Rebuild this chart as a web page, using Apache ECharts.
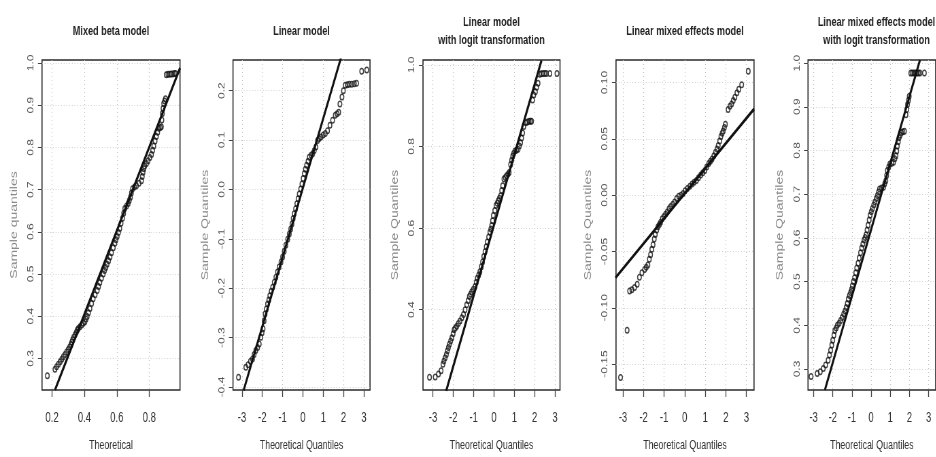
<!DOCTYPE html>
<html>
<head>
<meta charset="utf-8">
<script src="https://cdn.jsdelivr.net/npm/echarts@6/dist/echarts.min.js"></script>
<style>
html,body{margin:0;padding:0;background:#fff;overflow:hidden}
#wrap{width:936px;height:457px;overflow:hidden;position:relative}
#c{height:457px;transform-origin:0 0;position:absolute;left:0;top:0}
</style>
</head>
<body>
<div id="wrap"><div id="c"></div></div>
<script>
// ---------- DATA ----------
const titles = [
  "Mixed beta model",
  "Linear model",
  "Linear model\nwith logit transformation",
  "Linear mixed effects model",
  "Linear mixed effects model\nwith logit transformation"
];
const yNames = ["Sample quantiles", "Sample Quantiles", "Sample Quantiles", "Sample Quantiles", "Sample Quantiles"];
const xNames = ["Theoretical", "Theoretical Quantiles", "Theoretical Quantiles", "Theoretical Quantiles", "Theoretical Quantiles"];

const p1XTicks = [0.2, 0.4, 0.6, 0.8];
const p1XLabels = ["0.2", "0.4", "0.6", "0.8"];
const qXTicks = [-3, -2, -1, 0, 1, 2, 3];
const qXLabels = ["-3", "-2", "-1", "0", "1", "2", "3"];

const p1YTicks = [0.3, 0.4, 0.5, 0.6, 0.7, 0.8, 0.9, 1.0];
const p1YLabels = ["0.3", "0.4", "0.5", "0.6", "0.7", "0.8", "0.9", "1.0"];
const p2YTicks = [-0.4, -0.3, -0.2, -0.1, 0.0, 0.1, 0.2];
const p2YLabels = ["-0.4", "-0.3", "-0.2", "-0.1", "0.0", "0.1", "0.2"];
const p3YTicks = [0.4, 0.6, 0.8, 1.0];
const p3YLabels = ["0.4", "0.6", "0.8", "1.0"];
const p4YTicks = [-0.15, -0.10, -0.05, 0.00, 0.05, 0.10];
const p4YLabels = ["-0.15", "-0.10", "-0.05", "0.00", "0.05", "0.10"];
const p5YTicks = [0.3, 0.4, 0.5, 0.6, 0.7, 0.8, 0.9, 1.0];
const p5YLabels = ["0.3", "0.4", "0.5", "0.6", "0.7", "0.8", "0.9", "1.0"];

const p1XRange = [0.138, 0.99], p1YRange = [0.225, 1.007];
const p2XRange = [-3.44, 3.30], p2YRange = [-0.406, 0.262];
const p3XRange = [-3.49, 3.25], p3YRange = [0.203, 1.012];
const p4XRange = [-3.34, 3.37], p4YRange = [-0.173, 0.120];
const p5XRange = [-3.29, 3.37], p5YRange = [0.252, 1.007];

// reference lines (two visible end points)
const p1Line = [[0.218, 0.225], [0.99, 0.988]];
const p2Line = [[-2.92, -0.407], [1.87, 0.266]];
const p3Line = [[-2.35, 0.201], [2.34, 1.011]];
const p4Line = [[-3.37, -0.0735], [3.37, 0.0765]];
const p5Line = [[-2.41, 0.252], [2.55, 1.007]];

// sample points [theoretical, sample]
const p1Points = [
[0.171,0.259],[0.218,0.274],[0.228,0.280],[0.239,0.286],[0.250,0.292],[0.260,0.298],[0.270,0.304],
[0.280,0.309],[0.290,0.315],[0.300,0.321],[0.309,0.327],[0.317,0.333],[0.322,0.338],[0.327,0.344],
[0.334,0.350],[0.342,0.356],[0.350,0.362],[0.356,0.367],[0.362,0.371],[0.372,0.375],[0.383,0.379],
[0.393,0.383],[0.403,0.387],[0.410,0.393],[0.417,0.399],[0.425,0.408],[0.434,0.418],[0.444,0.430],
[0.454,0.441],[0.466,0.451],[0.479,0.461],[0.487,0.470],[0.495,0.480],[0.505,0.490],[0.516,0.500],
[0.524,0.508],[0.532,0.515],[0.540,0.523],[0.549,0.531],[0.558,0.540],[0.567,0.550],[0.578,0.562],
[0.588,0.573],[0.595,0.581],[0.602,0.589],[0.610,0.598],[0.618,0.608],[0.626,0.620],[0.635,0.632],
[0.642,0.644],[0.649,0.655],[0.660,0.661],[0.670,0.667],[0.677,0.674],[0.684,0.682],[0.690,0.692],
[0.697,0.702],[0.709,0.706],[0.721,0.709],[0.737,0.715],[0.752,0.721],[0.757,0.731],[0.762,0.741],
[0.767,0.749],[0.772,0.756],[0.783,0.762],[0.793,0.768],[0.804,0.776],[0.814,0.783],[0.821,0.793],
[0.828,0.803],[0.836,0.815],[0.844,0.826],[0.852,0.836],[0.860,0.845],[0.868,0.847],[0.875,0.849],
[0.878,0.865],[0.881,0.880],[0.885,0.892],[0.889,0.904],[0.895,0.910],[0.900,0.915],[0.905,0.972],
[0.915,0.973],[0.925,0.973],[0.935,0.974],[0.945,0.974],[0.955,0.975],[0.962,0.975]
];
const p2Points = [
[-3.17,-0.380],[-2.81,-0.360],[-2.70,-0.355],[-2.58,-0.348],[-2.48,-0.343],[-2.40,-0.334],[-2.32,-0.326],
[-2.23,-0.320],[-2.15,-0.313],[-2.07,-0.299],[-2.01,-0.290],[-1.96,-0.282],[-1.91,-0.266],[-1.86,-0.252],
[-1.80,-0.242],[-1.74,-0.232],[-1.68,-0.224],[-1.63,-0.215],[-1.56,-0.206],[-1.49,-0.198],[-1.41,-0.188],
[-1.33,-0.178],[-1.25,-0.167],[-1.17,-0.157],[-1.08,-0.147],[-1.00,-0.137],[-0.92,-0.125],[-0.84,-0.113],
[-0.75,-0.101],[-0.67,-0.090],[-0.60,-0.080],[-0.54,-0.070],[-0.48,-0.059],[-0.43,-0.049],[-0.36,-0.039],
[-0.30,-0.029],[-0.24,-0.019],[-0.18,-0.009],[-0.11,0.001],[-0.05,0.011],[0.01,0.022],[0.07,0.032],
[0.12,0.041],[0.18,0.049],[0.25,0.057],[0.31,0.065],[0.40,0.069],[0.48,0.072],[0.56,0.079],
[0.64,0.086],[0.72,0.099],[0.80,0.103],[0.89,0.106],[1.00,0.110],[1.10,0.113],[1.21,0.119],
[1.33,0.130],[1.46,0.140],[1.59,0.150],[1.68,0.153],[1.76,0.156],[1.82,0.173],[1.92,0.187],
[1.99,0.200],[2.08,0.211],[2.18,0.212],[2.28,0.213],[2.40,0.213],[2.53,0.214],[2.64,0.215],
[2.89,0.239],[3.14,0.242]
];
const p3Points = [
[-3.17,0.234],[-2.89,0.235],[-2.73,0.242],[-2.60,0.250],[-2.51,0.266],[-2.46,0.274],[-2.40,0.282],
[-2.34,0.290],[-2.29,0.299],[-2.24,0.307],[-2.19,0.315],[-2.13,0.323],[-2.07,0.331],[-2.01,0.341],
[-1.96,0.351],[-1.90,0.355],[-1.83,0.359],[-1.75,0.366],[-1.67,0.372],[-1.58,0.380],[-1.50,0.388],
[-1.42,0.400],[-1.34,0.412],[-1.27,0.422],[-1.21,0.432],[-1.15,0.438],[-1.09,0.444],[-1.01,0.450],
[-0.93,0.457],[-0.87,0.467],[-0.82,0.477],[-0.75,0.485],[-0.69,0.493],[-0.62,0.505],[-0.56,0.517],
[-0.50,0.530],[-0.44,0.542],[-0.38,0.554],[-0.33,0.566],[-0.26,0.578],[-0.20,0.590],[-0.15,0.598],
[-0.11,0.606],[-0.07,0.618],[-0.03,0.631],[0.04,0.643],[0.10,0.655],[0.16,0.661],[0.21,0.667],
[0.27,0.673],[0.33,0.679],[0.38,0.692],[0.43,0.704],[0.49,0.720],[0.56,0.724],[0.62,0.728],
[0.69,0.732],[0.75,0.736],[0.82,0.756],[0.87,0.766],[0.92,0.776],[0.97,0.783],[1.03,0.789],
[1.11,0.791],[1.19,0.793],[1.25,0.801],[1.31,0.809],[1.36,0.821],[1.41,0.833],[1.47,0.849],
[1.57,0.858],[1.65,0.860],[1.73,0.862],[1.80,0.862],[1.85,0.862],[1.90,0.914],[1.96,0.926],
[2.04,0.934],[2.10,0.945],[2.17,0.955],[2.25,0.977],[2.33,0.978],[2.42,0.979],[2.50,0.979],
[2.58,0.979],[2.75,0.979],[3.10,0.979]
];
const p4Points = [
[-3.12,-0.162],[-2.80,-0.120],[-2.68,-0.085],[-2.57,-0.084],[-2.44,-0.082],[-2.31,-0.079],[-2.20,-0.073],
[-2.08,-0.069],[-1.95,-0.066],[-1.87,-0.064],[-1.79,-0.062],[-1.72,-0.057],[-1.66,-0.053],[-1.60,-0.048],
[-1.54,-0.044],[-1.48,-0.039],[-1.43,-0.035],[-1.36,-0.031],[-1.30,-0.028],[-1.23,-0.026],[-1.17,-0.024],
[-1.09,-0.021],[-1.01,-0.019],[-0.93,-0.017],[-0.85,-0.015],[-0.76,-0.012],[-0.68,-0.010],[-0.58,-0.008],
[-0.49,-0.006],[-0.39,-0.003],[-0.29,-0.001],[-0.18,0.000],[-0.08,0.0015],[0.02,0.004],[0.13,0.006],
[0.25,0.008],[0.36,0.010],[0.46,0.0115],[0.57,0.013],[0.67,0.0155],[0.78,0.018],[0.88,0.020],
[0.98,0.022],[1.07,0.025],[1.17,0.028],[1.25,0.030],[1.33,0.032],[1.42,0.035],[1.50,0.038],
[1.57,0.041],[1.63,0.044],[1.70,0.048],[1.76,0.052],[1.82,0.055],[1.87,0.057],[1.93,0.060],
[1.98,0.063],[2.11,0.076],[2.20,0.079],[2.28,0.081],[2.36,0.084],[2.44,0.087],[2.54,0.091],
[2.63,0.094],[2.77,0.098],[3.09,0.110]
];
const p5Points = [
[-3.13,0.283],[-2.81,0.290],[-2.65,0.294],[-2.49,0.301],[-2.37,0.309],[-2.24,0.320],[-2.17,0.332],
[-2.11,0.343],[-2.05,0.355],[-2.00,0.366],[-1.94,0.377],[-1.89,0.388],[-1.82,0.394],[-1.76,0.400],
[-1.67,0.405],[-1.59,0.411],[-1.51,0.418],[-1.43,0.426],[-1.36,0.433],[-1.30,0.441],[-1.24,0.450],
[-1.19,0.460],[-1.13,0.468],[-1.07,0.475],[-1.02,0.482],[-0.98,0.490],[-0.92,0.500],[-0.86,0.509],
[-0.80,0.520],[-0.75,0.531],[-0.68,0.542],[-0.62,0.554],[-0.55,0.566],[-0.49,0.577],[-0.43,0.586],
[-0.37,0.595],[-0.31,0.601],[-0.26,0.607],[-0.21,0.618],[-0.16,0.629],[-0.10,0.641],[-0.05,0.652],
[0.01,0.660],[0.07,0.667],[0.14,0.675],[0.20,0.682],[0.27,0.690],[0.33,0.697],[0.39,0.705],
[0.44,0.712],[0.55,0.714],[0.65,0.716],[0.71,0.724],[0.77,0.731],[0.81,0.743],[0.85,0.754],
[0.92,0.762],[0.98,0.769],[1.08,0.771],[1.17,0.773],[1.24,0.781],[1.30,0.788],[1.34,0.799],
[1.37,0.810],[1.42,0.820],[1.46,0.829],[1.52,0.835],[1.58,0.841],[1.66,0.843],[1.74,0.844],
[1.82,0.882],[1.86,0.894],[1.90,0.905],[1.95,0.915],[1.99,0.924],[2.07,0.977],[2.15,0.977],
[2.23,0.977],[2.31,0.977],[2.39,0.977],[2.47,0.977],[2.55,0.977],[2.78,0.977]
];

// ---------- LAYOUT / STYLE ----------
// The original figure is horizontally squeezed; draw wider and compress with CSS.
const SX = 0.68;
const CHART_W = Math.round(936 / SX);
const SANS = "'Liberation Sans',Arial,'DejaVu Sans',sans-serif";
// boxes in final (screen) pixels
const boxes = [
  {left: 42, top: 60, width: 138, height: 333},
  {left: 233, top: 60, width: 137, height: 333},
  {left: 423, top: 60, width: 137, height: 333},
  {left: 616, top: 60, width: 138, height: 333},
  {left: 808, top: 60, width: 137, height: 333}
];
const panels = [
  {pts: p1Points, line: p1Line, xr: p1XRange, yr: p1YRange, xt: p1XTicks, xl: p1XLabels, yt: p1YTicks, yl: p1YLabels},
  {pts: p2Points, line: p2Line, xr: p2XRange, yr: p2YRange, xt: qXTicks, xl: qXLabels, yt: p2YTicks, yl: p2YLabels},
  {pts: p3Points, line: p3Line, xr: p3XRange, yr: p3YRange, xt: qXTicks, xl: qXLabels, yt: p3YTicks, yl: p3YLabels},
  {pts: p4Points, line: p4Line, xr: p4XRange, yr: p4YRange, xt: qXTicks, xl: qXLabels, yt: p4YTicks, yl: p4YLabels},
  {pts: p5Points, line: p5Line, xr: p5XRange, yr: p5YRange, xt: qXTicks, xl: qXLabels, yt: p5YTicks, yl: p5YLabels}
];

function lookup(ticks, labels) {
  return function (v) {
    for (let i = 0; i < ticks.length; i++) if (Math.abs(ticks[i] - v) < 1e-7) return labels[i];
    return '';
  };
}

const option = {
  animation: false,
  backgroundColor: '#ffffff',
  grid: [], xAxis: [], yAxis: [], series: [], graphic: []
};

panels.forEach(function (p, i) {
  const b = boxes[i];
  option.grid.push({left: b.left / SX, top: b.top, width: b.width / SX, height: b.height, show: true,
    borderColor: '#2a2a2a', borderWidth: 1.6, backgroundColor: 'transparent'});
  option.xAxis.push({
    type: 'value', gridIndex: i, min: p.xr[0], max: p.xr[1],
    name: xNames[i], nameLocation: 'middle', nameGap: 49,
    nameTextStyle: {fontFamily: SANS, fontSize: 13, color: '#333'},
    axisLine: {show: false, onZero: false},
    axisTick: {show: true, customValues: p.xt, length: 7, lineStyle: {color: '#444', width: 1.3}},
    axisLabel: {customValues: p.xt, formatter: lookup(p.xt, p.xl), fontFamily: SANS, fontSize: 14, color: '#333', margin: 21},
    splitLine: {show: true, lineStyle: {color: '#c4c4c4', type: [1, 3], width: 1.2}}
  });
  option.yAxis.push({
    type: 'value', gridIndex: i, min: p.yr[0], max: p.yr[1],
    name: yNames[i], nameLocation: 'middle', nameGap: 34,
    nameTextStyle: {fontFamily: SANS, fontSize: 14, color: '#8a8a8a'},
    axisLine: {show: false, onZero: false},
    axisTick: {show: true, customValues: p.yt, length: 6, lineStyle: {color: '#444', width: 1}},
    axisLabel: {customValues: p.yt, formatter: lookup(p.yt, p.yl), rotate: 90, fontFamily: SANS, fontSize: 12, color: '#555', margin: 10},
    splitLine: {show: true, lineStyle: {color: '#c4c4c4', type: [1, 3], width: 1}}
  });
  option.series.push({
    type: 'scatter', xAxisIndex: i, yAxisIndex: i, data: p.pts,
    symbol: 'circle', symbolSize: 5.5,
    itemStyle: {color: 'rgba(0,0,0,0)', borderColor: '#151515', borderWidth: 1.5},
    silent: true, z: 2
  });
  option.series.push({
    type: 'line', xAxisIndex: i, yAxisIndex: i, data: p.line, showSymbol: false, symbol: 'none',
    lineStyle: {color: '#111', width: 3}, clip: true, silent: true, z: 3
  });
  option.graphic.push({
    type: 'text', x: (b.left + b.width / 2) / SX, y: 31,
    style: {text: titles[i], align: 'center', verticalAlign: 'middle', lineHeight: 18,
      font: 'bold 13.4px ' + SANS, fill: '#222'}
  });
});

const el = document.getElementById('c');
el.style.width = CHART_W + 'px';
el.style.transform = 'scaleX(' + SX + ')';
const chart = echarts.init(el, null, {renderer: 'canvas'});
chart.setOption(option);
</script>
</body>
</html>
